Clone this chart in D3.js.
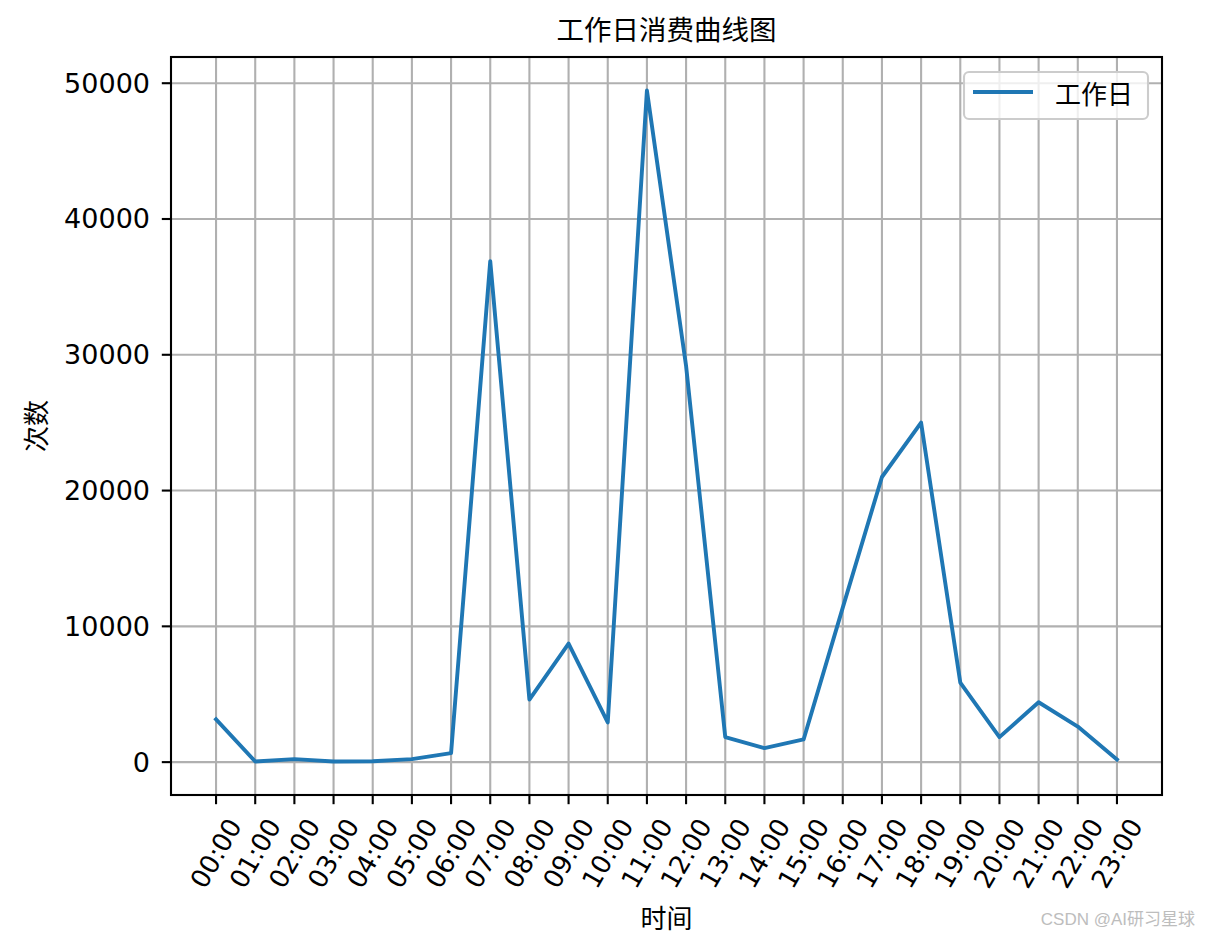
<!DOCTYPE html>
<html>
<head>
<meta charset="utf-8">
<style>
  body { margin: 0; background: #fff; }
  text { font-family: 'DejaVu Sans', 'Noto Sans CJK SC', sans-serif; fill: #000; }
  .cjk { font-family: 'Noto Sans CJK SC', 'DejaVu Sans', sans-serif; }
</style>
</head>
<body>
<div id="chart"></div>
<script src="https://cdn.jsdelivr.net/npm/d3@7/dist/d3.min.js"></script>
<script>
    var width = 1210,
        height = 938;

    var hours = ['00:00', '01:00', '02:00', '03:00', '04:00', '05:00', '06:00', '07:00',
                 '08:00', '09:00', '10:00', '11:00', '12:00', '13:00', '14:00', '15:00',
                 '16:00', '17:00', '18:00', '19:00', '20:00', '21:00', '22:00', '23:00'];

    var counts = [3150, 50, 220, 50, 60, 220, 660, 36890,
                  4610, 8730, 2920, 49460, 29170, 1840, 1030, 1670,
                  11380, 21000, 25000, 5860, 1840, 4410, 2620, 200];

    var yTicks = [0, 10000, 20000, 30000, 40000, 50000];

    var seriesName = '工作日';
    var titleText = '工作日消费曲线图';
    var xLabel = '时间',
        yLabel = '次数';

    // plot box (note: "top" is reserved on window, so use prefixed names)
    var pLeft = 171, pRight = 1162, pTop = 57, pBottom = 795;
    var lw = 2.1; // 0.8pt at this dpi

    var svg = d3.select('#chart')
        .append('svg')
        .attr('width', width)
        .attr('height', height);

    svg.append('rect').attr('width', width).attr('height', height).attr('fill', '#fff');

    // matplotlib-like 5% margins
    var xmin = 0, xmax = hours.length - 1;
    var xpad = (xmax - xmin) * 0.05;
    var x = d3.scaleLinear()
        .domain([xmin - xpad, xmax + xpad])
        .range([pLeft, pRight]);

    var ext = d3.extent(counts);
    var ypad = (ext[1] - ext[0]) * 0.05;
    var y = d3.scaleLinear()
        .domain([ext[0] - ypad, ext[1] + ypad])
        .range([pBottom, pTop]);

    // grid
    var grid = svg.append('g');
    grid.selectAll('.vg')
        .data(hours)
        .enter().append('line')
        .attr('x1', function(d, i){ return x(i); })
        .attr('x2', function(d, i){ return x(i); })
        .attr('y1', pTop)
        .attr('y2', pBottom)
        .attr('stroke', '#b0b0b0')
        .attr('stroke-width', lw);
    grid.selectAll('.hg')
        .data(yTicks)
        .enter().append('line')
        .attr('x1', pLeft)
        .attr('x2', pRight)
        .attr('y1', function(d){ return y(d); })
        .attr('y2', function(d){ return y(d); })
        .attr('stroke', '#b0b0b0')
        .attr('stroke-width', lw);

    // line
    var line = d3.line()
        .x(function(d, i){ return x(i); })
        .y(function(d){ return y(d); });

    svg.append('path')
        .datum(counts)
        .attr('d', line)
        .attr('fill', 'none')
        .attr('stroke', '#1f77b4')
        .attr('stroke-width', 3.9)
        .attr('stroke-linejoin', 'round')
        .attr('stroke-linecap', 'square');

    // spines
    svg.append('rect')
        .attr('x', pLeft)
        .attr('y', pTop)
        .attr('width', pRight - pLeft)
        .attr('height', pBottom - pTop)
        .attr('fill', 'none')
        .attr('stroke', '#000')
        .attr('stroke-width', lw);

    // y axis ticks
    var tickLen = 9.2, pad = 9.2;
    var yAxis = svg.append('g');
    yAxis.selectAll('line')
        .data(yTicks)
        .enter().append('line')
        .attr('x1', pLeft - tickLen)
        .attr('x2', pLeft)
        .attr('y1', function(d){ return y(d); })
        .attr('y2', function(d){ return y(d); })
        .attr('stroke', '#000')
        .attr('stroke-width', lw);
    yAxis.selectAll('text')
        .data(yTicks)
        .enter().append('text')
        .attr('x', 150)
        .attr('y', function(d){ return y(d); })
        .attr('text-anchor', 'end')
        .attr('dominant-baseline', 'central')
        .attr('font-size', 27)
        .text(function(d){ return d; });

    // x axis ticks
    var xAxis = svg.append('g');
    xAxis.selectAll('line')
        .data(hours)
        .enter().append('line')
        .attr('x1', function(d, i){ return x(i); })
        .attr('x2', function(d, i){ return x(i); })
        .attr('y1', pBottom)
        .attr('y2', pBottom + tickLen)
        .attr('stroke', '#000')
        .attr('stroke-width', lw);

    var fs = 26;
    var rad = 60 * Math.PI / 180;
    xAxis.selectAll('text')
        .data(hours)
        .enter().append('text')
        .attr('text-anchor', 'middle')
        .attr('dominant-baseline', 'central')
        .attr('font-size', fs)
        .text(function(d){ return d; })
        .attr('transform', function(d, i){
            var w = this.getComputedTextLength();
            var h = fs * 1.15;
            var H = w * Math.sin(rad) + h * Math.cos(rad);
            var cy = pBottom + tickLen + pad + H / 2;
            return 'translate(' + x(i) + ',' + cy + ') rotate(-60)';
        });

    // title and labels
    svg.append('text')
        .attr('class', 'cjk')
        .attr('x', (pLeft + pRight) / 2)
        .attr('y', 40)
        .attr('text-anchor', 'middle')
        .attr('font-size', 27.5)
        .text(titleText);

    svg.append('text')
        .attr('class', 'cjk')
        .attr('x', (pLeft + pRight) / 2)
        .attr('y', 928)
        .attr('text-anchor', 'middle')
        .attr('font-size', 26)
        .text(xLabel);

    svg.append('text')
        .attr('class', 'cjk')
        .attr('transform', 'translate(46,' + ((pTop + pBottom) / 2) + ') rotate(-90)')
        .attr('text-anchor', 'middle')
        .attr('font-size', 26)
        .text(yLabel);

    // legend
    var lg = svg.append('g');
    lg.append('rect')
        .attr('x', 964)
        .attr('y', 72)
        .attr('width', 184)
        .attr('height', 47)
        .attr('rx', 5)
        .attr('fill', '#fff')
        .attr('fill-opacity', 0.8)
        .attr('stroke', '#cccccc')
        .attr('stroke-width', lw);
    lg.append('line')
        .attr('x1', 973)
        .attr('x2', 1033)
        .attr('y1', 92)
        .attr('y2', 92)
        .attr('stroke', '#1f77b4')
        .attr('stroke-width', 3.9);
    lg.append('text')
        .attr('class', 'cjk')
        .attr('x', 1055)
        .attr('y', 92)
        .attr('dominant-baseline', 'central')
        .attr('font-size', 26)
        .text(seriesName);

    // watermark
    svg.append('text')
        .attr('x', 1195)
        .attr('y', 925)
        .attr('text-anchor', 'end')
        .attr('font-size', 17)
        .style('font-family', "'Liberation Sans', 'Noto Sans CJK SC', sans-serif")
        .style('fill', '#bdbdbd')
        .text('CSDN @AI研习星球');
</script>
</body>
</html>
